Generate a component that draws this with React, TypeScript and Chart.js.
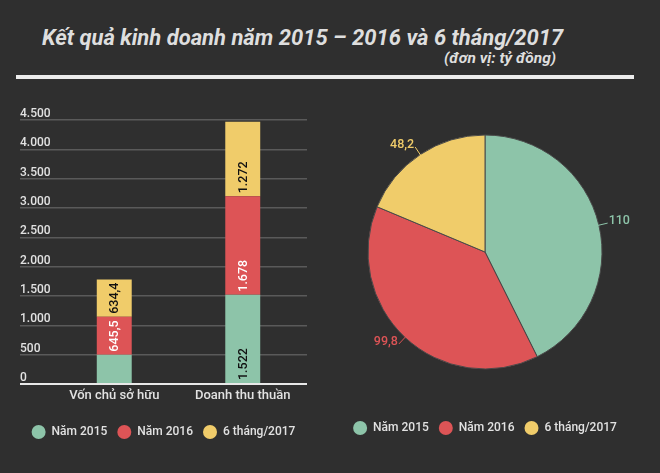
import React, { useEffect, useRef } from "react";
import { Chart, registerables } from "chart.js";

Chart.register(...registerables);

const categories = ["Vốn chủ sở hữu", "Doanh thu thuần"];
const seriesNames = ["Năm 2015", "Năm 2016", "6 tháng/2017"];
const values2015 = [500, 1522];
const values2016 = [645.5, 1678];
const values6m2017 = [634.4, 1272];
const show2015 = [false, true];
const show2016 = [true, true];
const show6m2017 = [true, true];
const yMin = 0;
const yMax = 4500;
const yStep = 500;
const profitValues = [110, 99.8, 48.2];

const GREEN = "#8dc4a9";
const RED = "#dd5456";
const YELLOW = "#f0cc6a";
const BG = "#2f2f2f";
const TEXT = "#e2e2e2";
const GRID = "#5a5a5a";

function formatVN(v: number): string {
  const s = String(v);
  const [i, d] = s.split(".");
  const int = i.replace(/\B(?=(\d{3})+(?!\d))/g, ".");
  return d ? int + "," + d : int;
}

const segLabels = {
  id: "segLabels",
  afterDatasetsDraw(chart: any) {
    const ctx = chart.ctx;
    chart.data.datasets.forEach((ds: any, di: number) => {
      const meta = chart.getDatasetMeta(di);
      meta.data.forEach((bar: any, i: number) => {
        if (!ds.showValue || !ds.showValue[i]) return;
        const { x, base } = bar.getProps(["x", "base"], true);
        ctx.save();
        ctx.translate(x, base - 3);
        ctx.rotate(-Math.PI / 2);
        ctx.font = "500 12.5px Roboto";
        ctx.fillStyle = ds.valueColor;
        ctx.textAlign = "left";
        ctx.textBaseline = "middle";
        ctx.fillText(formatVN(ds.data[i]), 0, 1);
        ctx.restore();
      });
    });
  },
};

const pieLabels = {
  id: "pieLabels",
  afterDatasetsDraw(chart: any) {
    const ctx = chart.ctx;
    const meta = chart.getDatasetMeta(0);
    const ds = chart.data.datasets[0];
    meta.data.forEach((arc: any, i: number) => {
      const { x, y, startAngle, endAngle, outerRadius } = arc.getProps(
        ["x", "y", "startAngle", "endAngle", "outerRadius"],
        true
      );
      const mid = (startAngle + endAngle) / 2;
      const dx = Math.cos(mid);
      const dy = Math.sin(mid);
      const p0x = x + dx * (outerRadius - 1);
      const p0y = y + dy * (outerRadius - 1);
      const p1x = p0x + dx * 10;
      const p1y = p0y + dy * 10;
      const color = ds.backgroundColor[i];
      ctx.save();
      ctx.strokeStyle = color;
      ctx.lineWidth = 1;
      ctx.beginPath();
      ctx.moveTo(p0x, p0y);
      ctx.lineTo(p1x, p1y);
      ctx.stroke();
      ctx.font = "500 12.5px Roboto";
      ctx.fillStyle = color;
      ctx.textBaseline = "middle";
      ctx.textAlign = dx >= 0 ? "left" : "right";
      ctx.fillText(formatVN(ds.data[i]), p1x + (dx >= 0 ? 1 : -1), p1y - 2);
      ctx.restore();
    });
  },
};

const legendLabels = {
  color: TEXT,
  font: { family: "Roboto", size: 12, weight: "500" as const },
  usePointStyle: true,
  pointStyle: "circle",
  boxHeight: 10,
  pointStyleWidth: 14,
  padding: 10,
};

export default function App() {
  const barRef = useRef<HTMLCanvasElement>(null);
  const pieRef = useRef<HTMLCanvasElement>(null);

  useEffect(() => {
    const bar = new Chart(barRef.current as HTMLCanvasElement, {
      type: "bar",
      data: {
        labels: categories,
        datasets: [
          {
            label: seriesNames[0],
            data: values2015,
            backgroundColor: GREEN,
            borderWidth: 0,
            showValue: show2015,
            valueColor: "#111",
          } as any,
          {
            label: seriesNames[1],
            data: values2016,
            backgroundColor: RED,
            borderWidth: 0,
            showValue: show2016,
            valueColor: "#fff",
          } as any,
          {
            label: seriesNames[2],
            data: values6m2017,
            backgroundColor: YELLOW,
            borderWidth: 0,
            showValue: show6m2017,
            valueColor: "#111",
          } as any,
        ],
      },
      options: {
        responsive: false,
        animation: false,
        layout: { padding: { left: 20, right: 23, top: 30, bottom: 2 } },
        datasets: { bar: { barPercentage: 1, categoryPercentage: 0.272 } },
        scales: {
          x: {
            stacked: true,
            grid: { display: false },
            border: { display: false },
            ticks: {
              color: TEXT,
              padding: -4,
              font: { family: "Roboto", size: 13, weight: "500" },
            },
            afterFit(scale: any) {
              scale.height = 32;
            },
          },
          y: {
            stacked: true,
            min: yMin,
            max: yMax,
            border: { display: false },
            grid: {
              color: (c: any) => (c.tick && c.tick.value === 0 ? "#e8e8e8" : GRID),
              tickColor: (c: any) => (c.tick && c.tick.value === 0 ? "#e8e8e8" : GRID),
              lineWidth: (c: any) => (c.tick && c.tick.value === 0 ? 2 : 1.5),
              drawTicks: true,
              tickLength: 30,
            },
            ticks: {
              stepSize: yStep,
              color: TEXT,
              crossAlign: "far",
              padding: 0,
              labelOffset: -6,
              font: { family: "Roboto", size: 12, weight: "500" },
              callback: (v: any) => formatVN(Number(v)),
            },
            afterFit(scale: any) {
              scale.width = 30;
            },
          },
        },
        plugins: {
          legend: { position: "bottom", labels: legendLabels as any },
          tooltip: { enabled: false },
        },
      } as any,
      plugins: [segLabels],
    });

    const pie = new Chart(pieRef.current as HTMLCanvasElement, {
      type: "pie",
      data: {
        labels: seriesNames,
        datasets: [
          {
            data: profitValues,
            backgroundColor: [GREEN, RED, YELLOW],
            borderColor: "#4a4a4a",
            borderWidth: 1,
          },
        ],
      },
      options: {
        responsive: false,
        animation: false,
        radius: 117,
        layout: { padding: { left: 0, right: 20, top: 2, bottom: 6 } },
        plugins: {
          legend: {
            position: "bottom",
            labels: {
              ...(legendLabels as any),
              generateLabels: (chart: any) =>
                (Chart as any).overrides.pie.plugins.legend.labels
                  .generateLabels(chart)
                  .map((l: any) => ({ ...l, lineWidth: 0, fontColor: TEXT })),
            },
          },
          tooltip: { enabled: false },
        },
      } as any,
      plugins: [pieLabels],
    });

    return () => {
      bar.destroy();
      pie.destroy();
    };
  }, []);

  return (
    <div
      style={{
        position: "absolute",
        left: 0,
        top: 0,
        width: 660,
        height: 473,
        background: BG,
        overflow: "hidden",
        fontFamily: "Roboto",
      }}
    >
      <div
        style={{
          position: "absolute",
          left: 42,
          top: 27,
          fontSize: 22,
          lineHeight: "22px",
          fontWeight: 700,
          fontStyle: "italic",
          color: "#dedede",
          whiteSpace: "nowrap",
        }}
      >
        Kết quả kinh doanh năm 2015 – 2016 và 6 tháng/2017
      </div>
      <div
        style={{
          position: "absolute",
          left: 444,
          top: 51,
          fontSize: 15.5,
          lineHeight: "15px",
          fontWeight: 700,
          fontStyle: "italic",
          color: "#dedede",
          whiteSpace: "nowrap",
        }}
      >
        (đơn vị: tỷ đồng)
      </div>
      <div
        style={{
          position: "absolute",
          left: 16,
          top: 75,
          width: 618,
          height: 4,
          background: "#ececec",
        }}
      />
      <div style={{ position: "absolute", left: 0, top: 90, width: 330, height: 360 }}>
        <canvas ref={barRef} width={330} height={360} style={{ width: 330, height: 360 }} />
      </div>
      <div style={{ position: "absolute", left: 330, top: 90, width: 330, height: 360 }}>
        <canvas ref={pieRef} width={330} height={360} style={{ width: 330, height: 360 }} />
      </div>
    </div>
  );
}
